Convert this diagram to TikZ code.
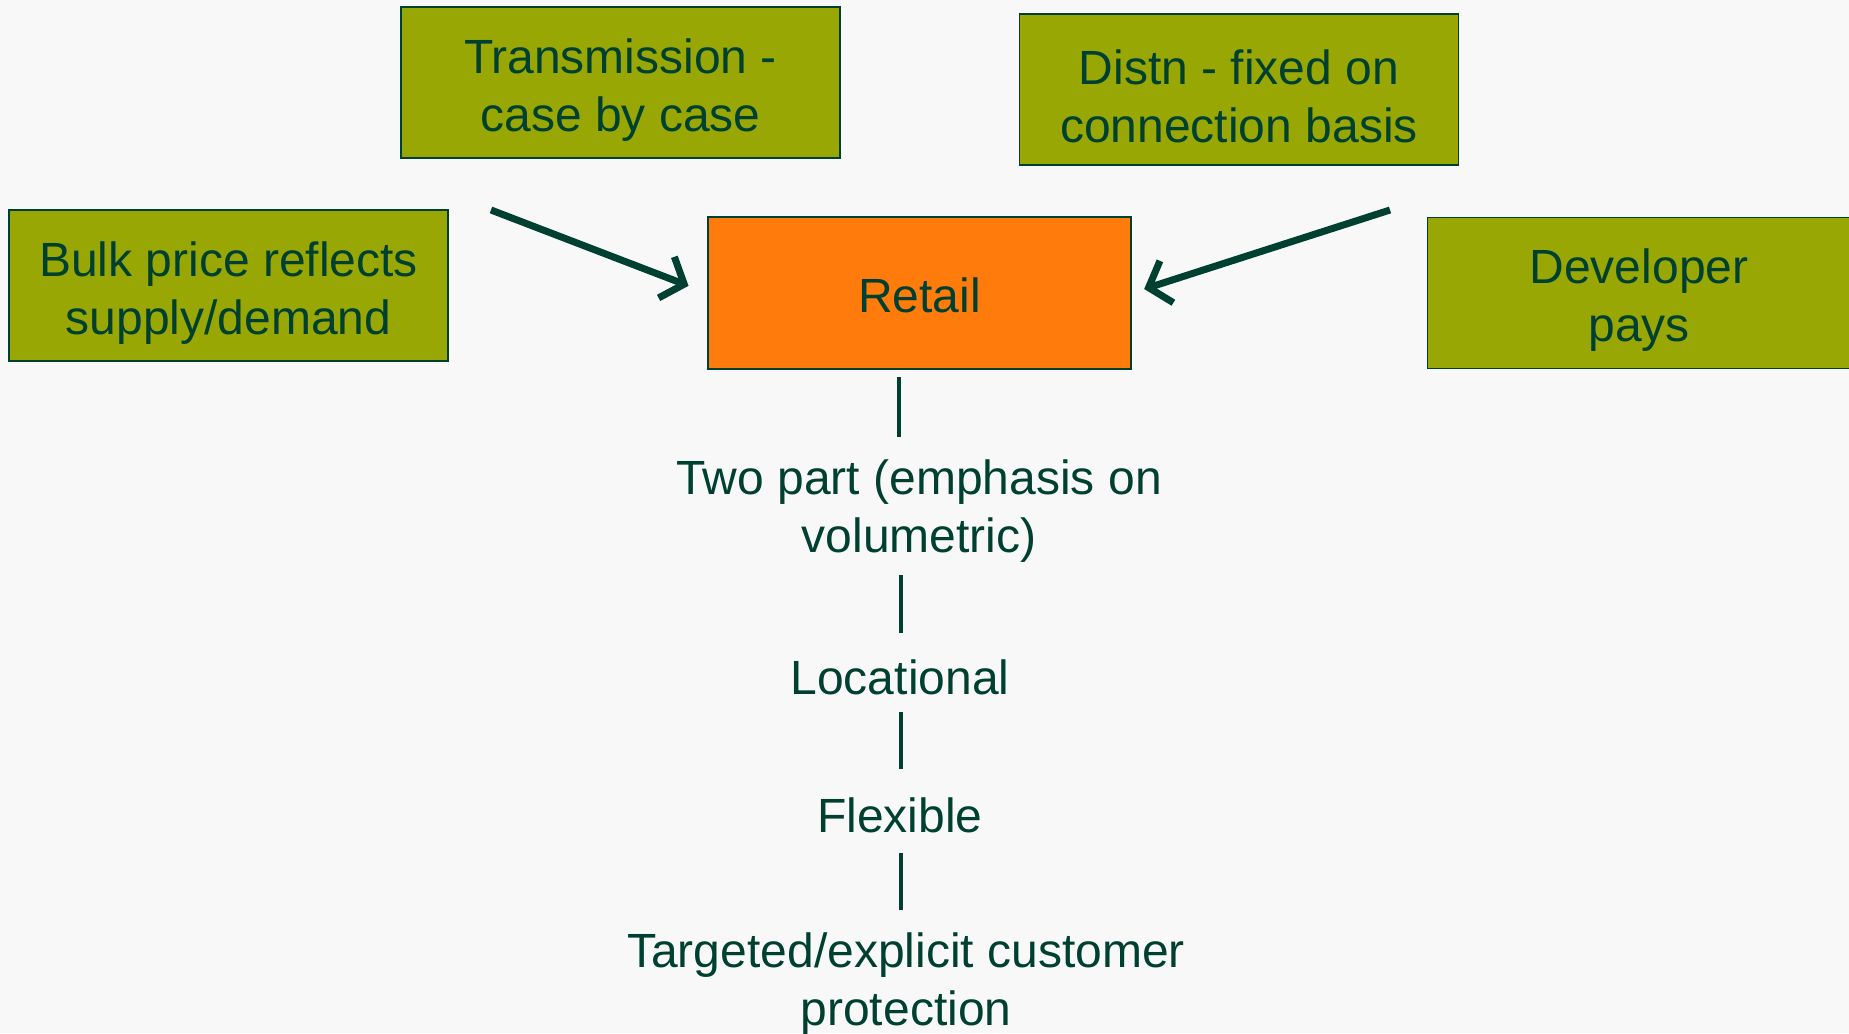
\documentclass[tikz,border=0pt]{standalone}
\usepackage{fontspec}
\setmainfont{Liberation Sans}
\usetikzlibrary{arrows.meta}
\definecolor{bg}{RGB}{248,248,248}
\definecolor{olive}{RGB}{152,167,4}
\definecolor{orng}{RGB}{255,123,12}
\definecolor{dkgreen}{RGB}{0,64,48}
\tikzset{
  box/.style={draw=dkgreen, line width=1.6pt, fill=olive, text=dkgreen, align=flush center,
    text width=439pt, minimum height=151pt, inner sep=0pt,
    font=\fontsize{48}{58}\selectfont, execute at begin node={\rule{0pt}{49pt}}},
  retailbox/.style={draw=dkgreen, line width=1.6pt, fill=orng, text=dkgreen, align=flush center,
    text width=423pt, minimum height=152pt, inner sep=0pt,
    font=\fontsize{48}{58}\selectfont, execute at begin node={\rule{0pt}{39pt}}},
  label/.style={text=dkgreen, align=center, inner sep=0pt, font=\fontsize{48}{58}\selectfont},
  conn/.style={draw=dkgreen, line width=7pt, -{Straight Barb[length=19pt,width=44pt]}},
  bar/.style={draw=dkgreen, line width=4.5pt}
}
\begin{document}
\begin{tikzpicture}[x=1pt,y=-1pt]
\fill[bg] (0,0) rectangle (1849,1033);
\useasboundingbox (0,0) rectangle (1849,1033);
\begin{scope}
\clip (0,0) rectangle (1849,1033);
\node[box] (trans) at (620.5,82.5) {Transmission -\\case by case};
\node[box] (distn) at (1239,89.5) {Distn - fixed on\\connection basis};
\node[box] (bulk) at (228.5,285.5) {Bulk price reflects\\supply/demand};
\node[retailbox] (retail) at (919.5,293) {Retail};
\node[box] (dev) at (1647,293) {\hspace*{-16pt}Developer\\\hspace*{-16pt}pays};
\end{scope}
\node[label] (twopart) at (919,511) {Two part (emphasis on\\volumetric)};
\node[label] (loc) at (900,677) {Locational};
\node[label] (flex) at (900,815) {Flexible};
\node[label] (targ) at (906,984) {Targeted/explicit customer\\protection};
\coordinate (a1) at (491,210);
\coordinate (a2) at (1390,210);
\draw[conn, shorten >=20pt] (a1) -- (retail.west);
\draw[conn, shorten >=13pt] (a2) -- (retail.east);
\coordinate (l1a) at (899,377); \coordinate (l1b) at (899,437);
\coordinate (l2a) at (901,575); \coordinate (l2b) at (901,633);
\coordinate (l3a) at (901,712); \coordinate (l3b) at (901,769);
\coordinate (l4a) at (901,853); \coordinate (l4b) at (901,910);
\draw[bar] (l1a) -- (l1b);
\draw[bar] (l2a) -- (l2b);
\draw[bar] (l3a) -- (l3b);
\draw[bar] (l4a) -- (l4b);
\end{tikzpicture}
\end{document}
